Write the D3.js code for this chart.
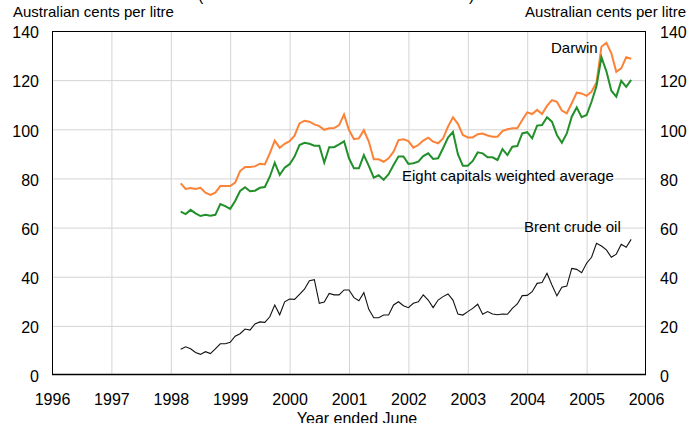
<!DOCTYPE html>
<html>
<head>
<meta charset="utf-8">
<script src="https://cdn.jsdelivr.net/npm/d3@7"></script>
<style>
  body { margin: 0; background: #fff; }
  svg { display: block; font-family: "Liberation Sans", Arial, Helvetica, sans-serif; }
  .grid line { stroke: #d4d4d4; stroke-width: 1; }
  .grid .domain { display: none; }
  .ticks .domain { display: none; }
  .ticks line { display: none; }
  .ticks text { font-size: 16px; fill: #000; }
  .lbl { font-size: 15px; fill: #000; }
</style>
</head>
<body>
<div id="chart"></div>
<script>
"use strict";

// monthly series, first point March 1998
var firstYear = 1998, firstMonth = 3;
var darwin = [78.0,75.7,76.1,75.7,76.2,74.2,73.3,74.2,76.9,76.9,
  76.9,78.3,83.0,84.7,84.7,84.9,86.0,85.7,90.2,95.4,
  92.5,94.1,95.2,97.4,102.4,103.5,103.1,102.0,101.3,99.8,
  100.4,100.5,101.7,106.0,99.7,96.0,96.3,99.6,95.0,87.8,
  87.8,86.8,88.2,90.9,95.6,95.9,95.2,92.5,93.6,95.4,
  96.6,95.0,94.3,96.3,101.1,104.9,102.2,97.7,96.7,96.7,
  98.0,98.3,97.5,97.0,97.0,99.3,100.0,100.4,100.4,103.8,
  106.9,106.2,107.9,106.2,109.5,111.9,111.2,107.6,106.5,110.6,
  114.9,114.6,113.6,115.3,119.0,133.6,135.2,130.9,123.4,124.8,
  129.3,128.7];
var capitals = [66.5,65.5,67.2,65.8,64.7,65.2,64.8,65.2,69.6,68.7,
  67.6,70.8,74.9,76.4,74.8,75.0,76.2,76.5,80.7,86.4,
  81.4,84.4,85.8,88.9,93.6,94.5,94.1,93.3,93.3,86.4,
  92.7,92.7,93.9,95.1,88.2,84.1,84.1,89.5,85.1,80.3,
  81.3,79.4,81.7,85.5,88.9,88.9,85.9,86.2,86.8,89.1,
  90.2,87.9,88.2,92.3,96.6,98.9,89.9,85.2,85.2,87.1,
  90.6,90.2,88.6,88.6,87.5,91.9,89.5,92.9,93.2,98.3,
  98.8,96.3,101.5,101.7,104.9,103.1,97.7,94.5,98.3,105.1,
  108.9,104.9,105.8,111.2,117.6,129.3,123.6,115.7,113.3,119.7,
  117.3,120.1];
var brent = [10.5,11.5,10.7,9.2,8.4,9.5,8.7,10.6,12.7,12.7,
  13.3,15.8,16.8,18.7,18.3,20.8,21.6,21.4,23.7,28.5,
  24.5,29.8,30.9,30.8,32.8,34.9,38.4,38.8,29.2,29.7,
  33.2,32.6,32.6,34.6,34.6,31.5,30.2,33.5,26.7,23.3,
  23.3,24.4,24.4,28.5,29.8,28.2,27.4,29.2,29.8,32.6,
  30.5,27.4,30.5,31.9,33.0,30.5,24.8,24.4,25.8,27.1,
  28.8,24.7,25.8,24.8,24.5,24.8,24.7,27.1,28.9,32.3,
  32.4,33.9,37.3,37.6,41.4,36.6,32.2,35.7,36.2,43.4,
  43.0,41.6,45.5,47.9,53.6,52.5,50.9,47.9,49.2,53.2,
  52.0,55.2];
var yearTicks = [1996,1997,1998,1999,2000,2001,2002,2003,2004,2005,2006];
var valueTicks = [0,20,40,60,80,100,120,140];

var width = 688, height = 423;
var margin = { top: 31, right: 42, bottom: 48, left: 52 };

var x = d3.scaleLinear()
    .domain([1996, 2006])
    .range([margin.left, width - margin.right]);
var y = d3.scaleLinear()
    .domain([0, 140])
    .range([height - margin.bottom, margin.top]);

var svg = d3.select("#chart").append("svg")
    .attr("width", width)
    .attr("height", height);

// gridlines
svg.append("g")
    .attr("class", "grid")
    .attr("transform", "translate(0," + y(0) + ")")
    .call(d3.axisBottom(x).tickValues(yearTicks.slice(1, -1))
        .tickSize(-(y(0) - y(140))).tickFormat(""));
svg.append("g")
    .attr("class", "grid")
    .attr("transform", "translate(" + x(1996) + ",0)")
    .call(d3.axisLeft(y).tickValues(valueTicks.slice(1, -1))
        .tickSize(-(x(2006) - x(1996))).tickFormat(""));

// frame
svg.append("rect")
    .attr("x", x(1996) + 0.5)
    .attr("y", y(140) + 0.5)
    .attr("width", x(2006) - x(1996) - 1)
    .attr("height", y(0) - y(140) - 1)
    .attr("fill", "none")
    .attr("stroke", "#000")
    .attr("stroke-width", 1);
svg.append("line")
    .attr("x1", x(1996)).attr("x2", x(2006))
    .attr("y1", y(0) - 0.5).attr("y2", y(0) - 0.5)
    .attr("stroke", "#000").attr("stroke-width", 1.6);

// tick labels
svg.append("g")
    .attr("class", "ticks")
    .attr("transform", "translate(" + (x(1996) - 13) + ",0)")
    .call(d3.axisLeft(y).tickValues(valueTicks).tickSize(0).tickPadding(0))
    .selectAll("text").attr("dy", "0.42em");
svg.append("g")
    .attr("class", "ticks")
    .attr("transform", "translate(" + (x(2006) + 14) + ",0)")
    .call(d3.axisRight(y).tickValues(valueTicks).tickSize(0).tickPadding(0))
    .selectAll("text").attr("dy", "0.42em");
svg.append("g")
    .attr("class", "ticks")
    .attr("transform", "translate(0," + y(0) + ")")
    .call(d3.axisBottom(x).tickValues(yearTicks).tickSize(0).tickPadding(19)
        .tickFormat(d3.format("d")));

// series
function monthPos(i) {
    return firstYear + (firstMonth - 1 + i) / 12;
}
var line = d3.line()
    .x(function (d, i) { return x(monthPos(i)); })
    .y(function (d) { return y(d); });

svg.append("path").datum(brent)
    .attr("d", line).attr("fill", "none")
    .attr("stroke", "#111").attr("stroke-width", 1.1);
svg.append("path").datum(darwin)
    .attr("d", line).attr("fill", "none")
    .attr("stroke", "#fb8236").attr("stroke-width", 2);
svg.append("path").datum(capitals)
    .attr("d", line).attr("fill", "none")
    .attr("stroke", "#22902a").attr("stroke-width", 2);

// labels
svg.append("text").attr("class", "lbl")
    .attr("x", 13).attr("y", 17).text("Australian cents per litre");
svg.append("text").attr("class", "lbl")
    .attr("x", 686).attr("y", 17).attr("text-anchor", "end")
    .text("Australian cents per litre");
svg.append("text").attr("class", "lbl")
    .attr("x", 551).attr("y", 53).text("Darwin");
svg.append("text").attr("class", "lbl")
    .attr("x", 402).attr("y", 181).text("Eight capitals weighted average");
svg.append("text").attr("class", "lbl")
    .attr("x", 524).attr("y", 232).text("Brent crude oil");
svg.append("text").attr("class", "lbl")
    .attr("x", 357).attr("y", 424).attr("text-anchor", "middle")
    .style("font-size", "16px").text("Year ended June");

// title cut off at the top edge
svg.append("text").attr("class", "lbl")
    .attr("x", 198).attr("y", 1).style("font-size", "16px").text("(");
svg.append("text").attr("class", "lbl")
    .attr("x", 469).attr("y", 1).style("font-size", "16px").text(")");
</script>
</body>
</html>
